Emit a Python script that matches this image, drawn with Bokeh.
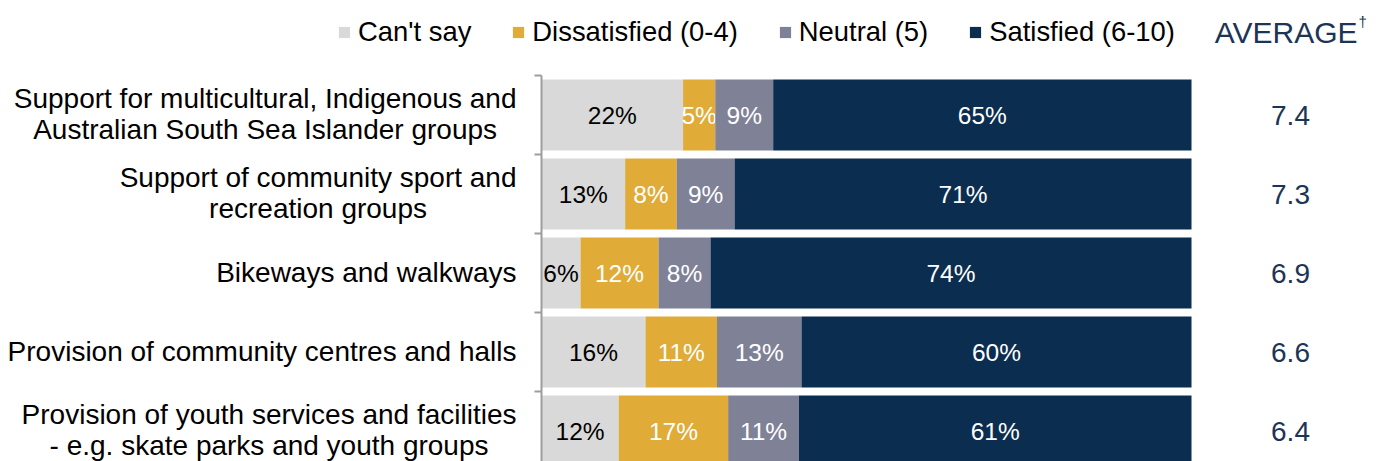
from bokeh.plotting import figure
from bokeh.models import ColumnDataSource, Range1d, Legend, LegendItem
from bokeh.core.properties import value
from bokeh.embed import file_html
from bokeh.resources import INLINE

# ---------------- data ----------------
categories = [
    "Support for multicultural, Indigenous and\nAustralian South Sea Islander groups",
    "Support of community sport and\nrecreation groups",
    "Bikeways and walkways",
    "Provision of community centres and halls",
    "Provision of youth services and facilities\n- e.g. skate parks and youth groups",
]
series = ["Can't say", "Dissatisfied (0-4)", "Neutral (5)", "Satisfied (6-10)"]
cant_say = [22, 13, 6, 16, 12]
dissatisfied = [5, 8, 12, 11, 17]
neutral = [9, 9, 8, 13, 11]
satisfied = [65, 71, 74, 60, 61]
averages = [7.4, 7.3, 6.9, 6.6, 6.4]
avg_header = "AVERAGE"
avg_mark = "\u2020"

# ---------------- styles / layout ----------------
colors = ["#d9d9d9", "#e0ab37", "#7f8197", "#0b2d4f"]
label_colors = ["#000000", "#ffffff", "#ffffff", "#ffffff"]
navy_text = "#1c3556"
axis_color = "#9d9d9d"
FONT_NAME = "Liberation Sans"
FONT = value(FONT_NAME)

W, H = 1381, 461
AX_PX = 541.0      # pixel of the value axis
PX_PER_PCT = 6.5
ROW0_PX = 114.5
ROW_PX = 79.0


def px2x(px):
    return (px - AX_PX) / PX_PER_PCT


def px2y(py):
    return (py - ROW0_PX) / ROW_PX


p = figure(width=W, height=H, output_backend="svg", toolbar_location=None,
           x_range=Range1d(px2x(0), px2x(W)), y_range=Range1d(px2y(H), px2y(0)),
           min_border=0, outline_line_color=None)
p.axis.visible = False
p.grid.visible = False
p.background_fill_color = "white"
p.border_fill_color = "white"

rows = list(range(len(categories)))
vals = [cant_say, dissatisfied, neutral, satisfied]
totals = [sum(v[i] for v in vals) for i in rows]

renderers = []
left = [0.0] * len(rows)
for k, s in enumerate(series):
    widths = [vals[k][i] * 100.0 / totals[i] for i in rows]
    right = [left[i] + widths[i] for i in rows]
    src = ColumnDataSource(dict(
        y=rows, left=left, right=right,
        mid=[(left[i] + right[i]) / 2 for i in rows],
        lab=[f"{vals[k][i]}%" for i in rows],
    ))
    r = p.hbar(y="y", left="left", right="right", height=0.9, source=src,
               fill_color=colors[k], line_color=None)
    renderers.append(r)
    p.text(x="mid", y="y", text="lab", source=src, text_align="center",
           text_baseline="middle", text_color=label_colors[k],
           text_font=FONT, text_font_size="24.5px")
    left = right

# category labels
cat_src = ColumnDataSource(dict(x=[0] * len(rows), y=rows, t=categories))
p.text(x="x", y="y", text="t", source=cat_src, x_offset=-25, y_offset=-1,
       anchor="center_right", text_align="center", text_baseline="middle",
       text_line_height=1.0, text_color="#000000",
       text_font=FONT, text_font_size="28px")

# averages
avg_src = ColumnDataSource(dict(x=[px2x(1290)] * len(rows), y=rows,
                                t=[f"{a:.1f}" for a in averages]))
p.text(x="x", y="y", text="t", source=avg_src, text_align="center",
       text_baseline="middle", text_color=navy_text,
       text_font=FONT, text_font_size="28px")

p.text(x=[px2x(1357)], y=[px2y(32)], text=[avg_header], text_align="right",
       text_baseline="middle", text_color=navy_text, text_font=FONT,
       text_font_size="30px")
p.text(x=[px2x(1358)], y=[px2y(21)], text=[avg_mark], text_align="left",
       text_baseline="middle", text_color=navy_text, text_font=FONT,
       text_font_size="15px")

# value axis line and boundary ticks
bounds = [i - 0.5 for i in range(len(rows) + 1)]
p.segment(x0=[0], y0=[bounds[0]], x1=[0], y1=[px2y(H + 5)],
          line_color=axis_color, line_width=2)
p.segment(x0=[0] * len(bounds), y0=bounds, x1=[px2x(AX_PX - 7)] * len(bounds),
          y1=bounds, line_color=axis_color, line_width=2)

legend = Legend(items=[LegendItem(label=s, renderers=[renderers[k]])
                       for k, s in enumerate(series)],
                orientation="horizontal", location=(337, 461 - 17 - 31),
                glyph_width=14, glyph_height=14, label_standoff=7, spacing=40,
                padding=0, margin=0, border_line_color=None,
                background_fill_alpha=0, label_text_font=FONT_NAME,
                label_text_font_size="27.4px", label_text_color="#000000")
p.add_layout(legend, "center")

open("out.html", "w").write(file_html(p, INLINE))
